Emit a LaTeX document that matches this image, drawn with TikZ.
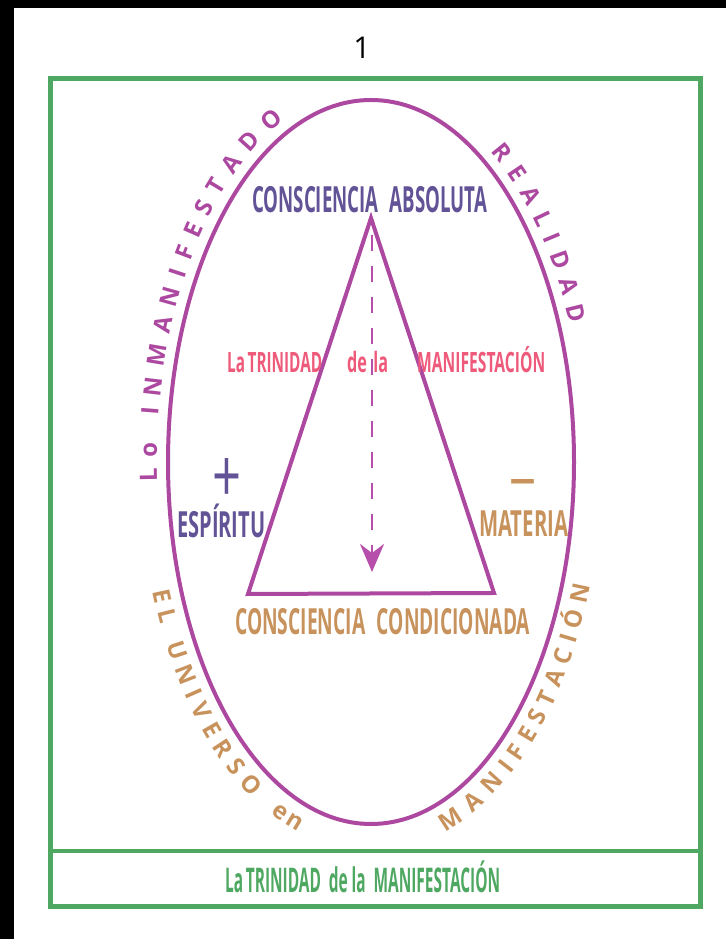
\documentclass[tikz,border=0pt]{standalone}
\usepackage{fontspec}
\setmainfont{Open Sans}
\usetikzlibrary{arrows.meta, positioning, decorations.text}
\definecolor{framegreen}{RGB}{78,168,98}
\definecolor{ovalpurple}{RGB}{172,72,160}
\definecolor{absviolet}{RGB}{98,82,150}
\definecolor{trinpink}{RGB}{238,90,122}
\definecolor{mattan}{RGB}{200,146,92}
\definecolor{arrowmag}{RGB}{182,78,172}
\newcommand\narrowto[2]{\resizebox{#1}{\height}{#2}}
\newcommand\arcfont{\bfseries\fontsize{24}{24}\selectfont}
\tikzset{
    caps/.style={inner sep=0pt, anchor=base west, font=\bfseries\fontsize{36}{36}\selectfont},
    pinktxt/.style={inner sep=0pt, anchor=base west, text=trinpink, font=\bfseries\fontsize{28}{28}\selectfont},
    arctxt/.style={decorate, decoration={text along path, text align={fit to path}}},
    oval/.style={draw=ovalpurple, line width=4pt}
}

\begin{document}
\begin{tikzpicture}[x=1pt, y=1pt, >={Stealth[length=28pt, width=24pt, inset=9pt]}]
    \useasboundingbox (0,0) rectangle (726,939);
    % scan edges
    \fill[black] (0,0) rectangle (14,939);
    \fill[black] (0,931) rectangle (726,939);

    % frame and caption box
    \draw[framegreen, line width=5pt] (50,32) rectangle (700,860);
    \draw[framegreen, line width=4pt] (50,88) -- (700,88);
    \node (pagenum) at (362,891) [font=\fontsize{30}{30}\selectfont] {1};

    % oval and triangle
    \coordinate (ctr) at (371,477);
    \coordinate (apex) at (371,721);
    \coordinate (bl) at (248,345);
    \coordinate (br) at (494,346);
    \coordinate (flowtop) at (372,704);
    \coordinate (flowbot) at (372,367);
    \draw[oval] (ctr) ellipse [x radius=203, y radius=362];
    \draw[oval, line join=miter] (apex) -- (bl) -- (br) -- cycle;
    \draw[->, arrowmag, line width=2.5pt, dash pattern=on 16pt off 15pt] (flowtop) -- (flowbot);

    \node (absoluta) [caps, text=absviolet] at (252,726) {\narrowto{235pt}{CONSCIENCIA\hspace{0.6em}ABSOLUTA}};
    \node (trin) [pinktxt] at (227,566) {\narrowto{95pt}{La\,TRINIDAD}};
    \node (dela) [pinktxt] at (347,566) {\narrowto{41pt}{de\hspace{0.4em}la}};
    \node (manif) [pinktxt] at (417,566) {\narrowto{128pt}{MANIFESTACIÓN}};

    \node (espiritu) [caps, text=absviolet] at (177,401) {\narrowto{88pt}{ESPÍRITU}};
    \node (plus) [inner sep=0pt, anchor=base, text=absviolet, font=\fontsize{36}{36}\selectfont] at (227,436) {\resizebox{29pt}{44pt}{+}};
    \node (materia) [caps, text=mattan] at (479,402) {\narrowto{89pt}{MATERIA}};
    \node (minus) [inner sep=0pt, anchor=base, text=mattan, font=\bfseries\fontsize{40}{40}\selectfont] at (523,446) {\resizebox{27pt}{\height}{–}};
    \node (condic) [caps, text=mattan] at (235,304) {\narrowto{295pt}{CONSCIENCIA\hspace{0.6em}CONDICIONADA}};

    \node (caption) [caps, text=framegreen, font=\bfseries\fontsize{34}{34}\selectfont] at (225,46) {\narrowto{275pt}{La\,TRINIDAD\hspace{0.5em}de la\hspace{0.5em}MANIFESTACIÓN}};

    % words along the oval
    \path[arctxt, shift={(ctr)}, decoration={raise=11pt, text={|\arcfont\color{ovalpurple}|Lo INMANIFESTADO}}]
        (183:203 and 362) arc[start angle=183, end angle=113, x radius=203, y radius=362];
    \path[arctxt, shift={(ctr)}, decoration={raise=11pt, text={|\arcfont\color{ovalpurple}|REALIDAD}}]
        (57:203 and 362) arc[start angle=57, end angle=22, x radius=203, y radius=362];
    \path[arctxt, shift={(ctr)}, decoration={raise=-28pt, text={|\arcfont\color{mattan}|EL UNIVERSO}}]
        (200:203 and 362) arc[start angle=200, end angle=241, x radius=203, y radius=362];
    \path[decorate, shift={(ctr)}, decoration={text along path, text align=center, raise=-27pt, text={|\arcfont\color{mattan}|en}}]
        (243:203 and 362) arc[start angle=243, end angle=256, x radius=203, y radius=362];
    \path[arctxt, shift={(ctr)}, decoration={raise=-28pt, text={|\arcfont\color{mattan}|MANIFESTACIÓN}}]
        (287:203 and 362) arc[start angle=287, end angle=341, x radius=203, y radius=362];
\end{tikzpicture}
\end{document}
